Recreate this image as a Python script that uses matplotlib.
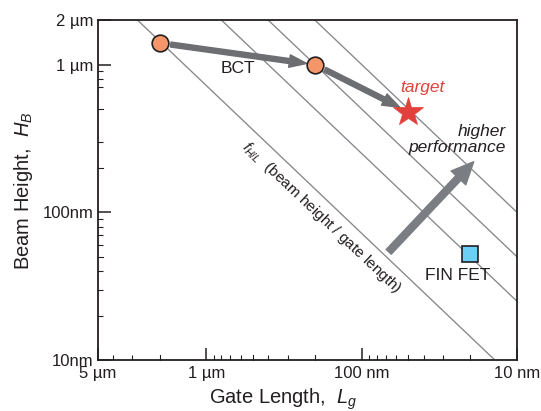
import matplotlib
matplotlib.use('Agg')
import matplotlib.pyplot as plt
import numpy as np
from matplotlib.ticker import FixedLocator, NullFormatter

plt.rcParams['font.family'] = ['Liberation Sans', 'DejaVu Sans']
plt.rcParams['mathtext.fontset'] = 'custom'
plt.rcParams['mathtext.rm'] = 'Liberation Sans'
plt.rcParams['mathtext.it'] = 'Liberation Sans:italic'

# ---- data (all lengths in nm) ----
ratio_lines = [0.72, 2.5, 5.0, 10.0]          # H/L constant-ratio lines
bct_L = [2000, 200]
bct_H = [1400, 1000]
target_L = [50]
target_H = [480]
finfet_L = [20]
finfet_H = [52]
perf_L = [67, 19]
perf_H = [54, 220]

x_major = [5000, 1000, 100, 10]
x_major_labels = ['5 \u00b5m', '1 \u00b5m', '100 nm', '10 nm']
y_major = [2000, 1000, 100, 10]
y_major_labels = ['2 \u00b5m', '1 \u00b5m', '100nm', '10nm']
x_minor_short = [4000, 3000, 900, 800, 700, 600, 400, 300, 90, 80, 70, 60, 40, 30]
x_minor_mid = [2000, 500, 200, 50, 20]
y_minor_short = [900, 800, 700, 300, 90, 80, 70, 60, 40, 30, 20]
y_minor_mid = [500, 200, 50]

fig = plt.figure(figsize=(5.41, 4.11), dpi=100)
ax = fig.add_axes([0.181, 0.124, 0.7746, 0.827])
ax.set_xscale('log')
ax.set_yscale('log')
ax.set_xlim(5000, 10)
ax.set_ylim(10, 2000)

# constant ratio lines
Ls = np.array([5000.0, 10.0])
for r in ratio_lines:
    ax.plot(Ls, r * Ls, color='#85878a', lw=0.95, zorder=1)

gray = '#6d6e71'
# BCT arrows
ax.annotate('', xy=(bct_L[1], bct_H[1]), xytext=(bct_L[0], bct_H[0]),
            arrowprops=dict(arrowstyle='simple,head_length=1.25,head_width=0.9,tail_width=0.36',
                            color=gray, shrinkA=8, shrinkB=6, mutation_scale=10), zorder=3)
ax.annotate('', xy=(target_L[0], target_H[0]), xytext=(bct_L[1], bct_H[1]),
            arrowprops=dict(arrowstyle='simple,head_length=1.25,head_width=0.9,tail_width=0.36',
                            color=gray, shrinkA=8, shrinkB=7, mutation_scale=10), zorder=3)
# higher performance arrow
ax.annotate('', xy=(perf_L[1], perf_H[1]), xytext=(perf_L[0], perf_H[0]),
            arrowprops=dict(arrowstyle='simple,head_length=1.6,head_width=1.45,tail_width=0.5',
                            color='#7a7d82', shrinkA=0, shrinkB=0, mutation_scale=10), zorder=3)

ax.plot(bct_L, bct_H, 'o', ms=12, mfc='#f4956a', mec='#231f20', mew=1.2, ls='none', zorder=5)
ax.plot(target_L, target_H, '*', ms=22, mfc='#e2403a', mec='#e2403a', mew=0.5, ls='none', zorder=5)
ax.plot(finfet_L, finfet_H, 's', ms=11.5, mfc='#6dcff6', mec='#231f20', mew=1.2, ls='none', zorder=5)

# texts
ax.text(625, 943, 'BCT', fontsize=12.5, ha='center', va='center', color='#231f20')
ax.text(40.6, 700, 'target', fontsize=12.5, ha='center', va='center', color='#e2403a', style='italic')
ax.text(11.8, 310, 'higher\nperformance', fontsize=12.5, ha='right', va='center', color='#231f20',
        style='italic', linespacing=1.05)
ax.text(24.2, 37.4, 'FIN FET', fontsize=12.5, ha='center', va='center', color='#231f20')
ax.text(182, 91.4, r'$f_{H/L}$  (beam height / gate length)', fontsize=11, ha='center', va='center',
        rotation=-43.4, rotation_mode='anchor', color='#231f20')

# ticks
ax.xaxis.set_major_locator(FixedLocator(x_major))
ax.set_xticklabels(x_major_labels)
ax.yaxis.set_major_locator(FixedLocator(y_major))
ax.set_yticklabels(y_major_labels)
ax.xaxis.set_minor_locator(FixedLocator(x_minor_short))
ax.yaxis.set_minor_locator(FixedLocator(y_minor_short))
ax.xaxis.set_minor_formatter(NullFormatter())
ax.yaxis.set_minor_formatter(NullFormatter())
ax.tick_params(which='major', direction='in', length=9, width=1.1, labelsize=12,
               colors='#231f20', pad=4)
ax.tick_params(axis='y', which='major', pad=3)
ax.tick_params(which='minor', direction='in', length=3.5, width=0.8, colors='#231f20')
ax.tick_params(top=False, right=False, which='both')
for v in x_minor_mid:
    ax.plot([v, v], [10, 10 * 10 ** (5.5 / 147)], color='#231f20', lw=0.8, zorder=2, clip_on=False)
for v in y_minor_mid:
    ax.plot([5000, 5000 / 10 ** (5.5 / 155)], [v, v], color='#231f20', lw=0.8, zorder=2, clip_on=False)

for s in ax.spines.values():
    s.set_linewidth(1.3)
    s.set_color('#231f20')

ax.set_xlabel(r'Gate Length,  $L_g$', fontsize=14.5, color='#231f20', va='baseline')
ax.set_ylabel(r'Beam Height,  $H_B$', fontsize=14.5, color='#231f20', va='center')
ax.xaxis.set_label_coords(0.443, -0.128)
ax.yaxis.set_label_coords(-0.178, 0.497)

fig.savefig('out.png', dpi=100)
